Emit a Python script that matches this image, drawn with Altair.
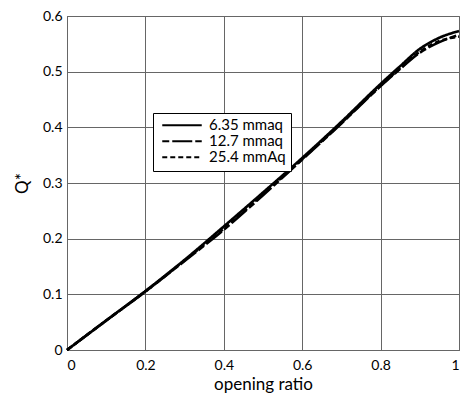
import altair as alt
import pandas as pd

x_vals = [0.0, 0.1, 0.2, 0.3, 0.4, 0.5, 0.6, 0.7, 0.8, 0.85, 0.9, 0.95, 1.0]
q_635 = [0.0, 0.053, 0.106, 0.162, 0.222, 0.283, 0.345, 0.410, 0.478, 0.510, 0.541, 0.561, 0.573]
q_127 = [0.0, 0.053, 0.105, 0.160, 0.216, 0.278, 0.342, 0.407, 0.474, 0.505, 0.534, 0.553, 0.566]
q_254 = [0.0, 0.053, 0.105, 0.161, 0.218, 0.280, 0.343, 0.408, 0.475, 0.506, 0.536, 0.555, 0.563]
series = ["6.35 mmaq", "12.7 mmaq", "25.4 mmAq"]
dashes = [[1, 0], [7, 3, 20, 3], [5, 3]]

rows = []
for name, vals in zip(series, [q_635, q_127, q_254]):
    for xv, yv in zip(x_vals, vals):
        rows.append({"x": xv, "q": yv, "series": name})
df = pd.DataFrame(rows)

FONT = "Lato"

chart = alt.Chart(df).mark_line(color="black", strokeWidth=2.6, interpolate="monotone").encode(
    x=alt.X("x:Q", scale=alt.Scale(domain=[0, 1], nice=False),
            axis=alt.Axis(values=[0, 0.2, 0.4, 0.6, 0.8, 1], format="~g",
                          title="opening ratio", ticks=False, labelPadding=8,
                          titlePadding=4)),
    y=alt.Y("q:Q", scale=alt.Scale(domain=[0, 0.6], nice=False),
            axis=alt.Axis(values=[0, 0.1, 0.2, 0.3, 0.4, 0.5, 0.6], format="~g",
                          title="Q*", ticks=False, labelPadding=5,
                          titlePadding=11)),
    strokeDash=alt.StrokeDash("series:N", scale=alt.Scale(domain=series, range=dashes),
                              sort=series,
                              legend=alt.Legend(orient="none", legendX=86, legendY=97,
                                                title=None, symbolType="stroke",
                                                symbolSize=1560, symbolStrokeWidth=2.2,
                                                symbolStrokeColor="black",
                                                clipHeight=14.5,
                                                labelFontSize=15, labelFont=FONT,
                                                labelColor="black", rowPadding=0,
                                                strokeColor="black", fillColor="white",
                                                padding=5, symbolOffset=3, labelOffset=6)),
).properties(
    width=392, height=334,
    padding={"left": 59, "top": 8, "right": 4, "bottom": 44},
    autosize=alt.AutoSizeParams(type="none"),
).configure_view(
    stroke="#666", strokeWidth=1
).configure_axis(
    grid=True, gridColor="#666", gridWidth=1, gridOpacity=1,
    domainColor="#666", domainWidth=1,
    labelFont=FONT, labelFontSize=14, labelColor="black",
    titleFont=FONT, titleFontSize=17, titleColor="black", titleFontWeight="normal",
)

chart.save("out.html", embed_options={"renderer": "svg", "actions": False})
